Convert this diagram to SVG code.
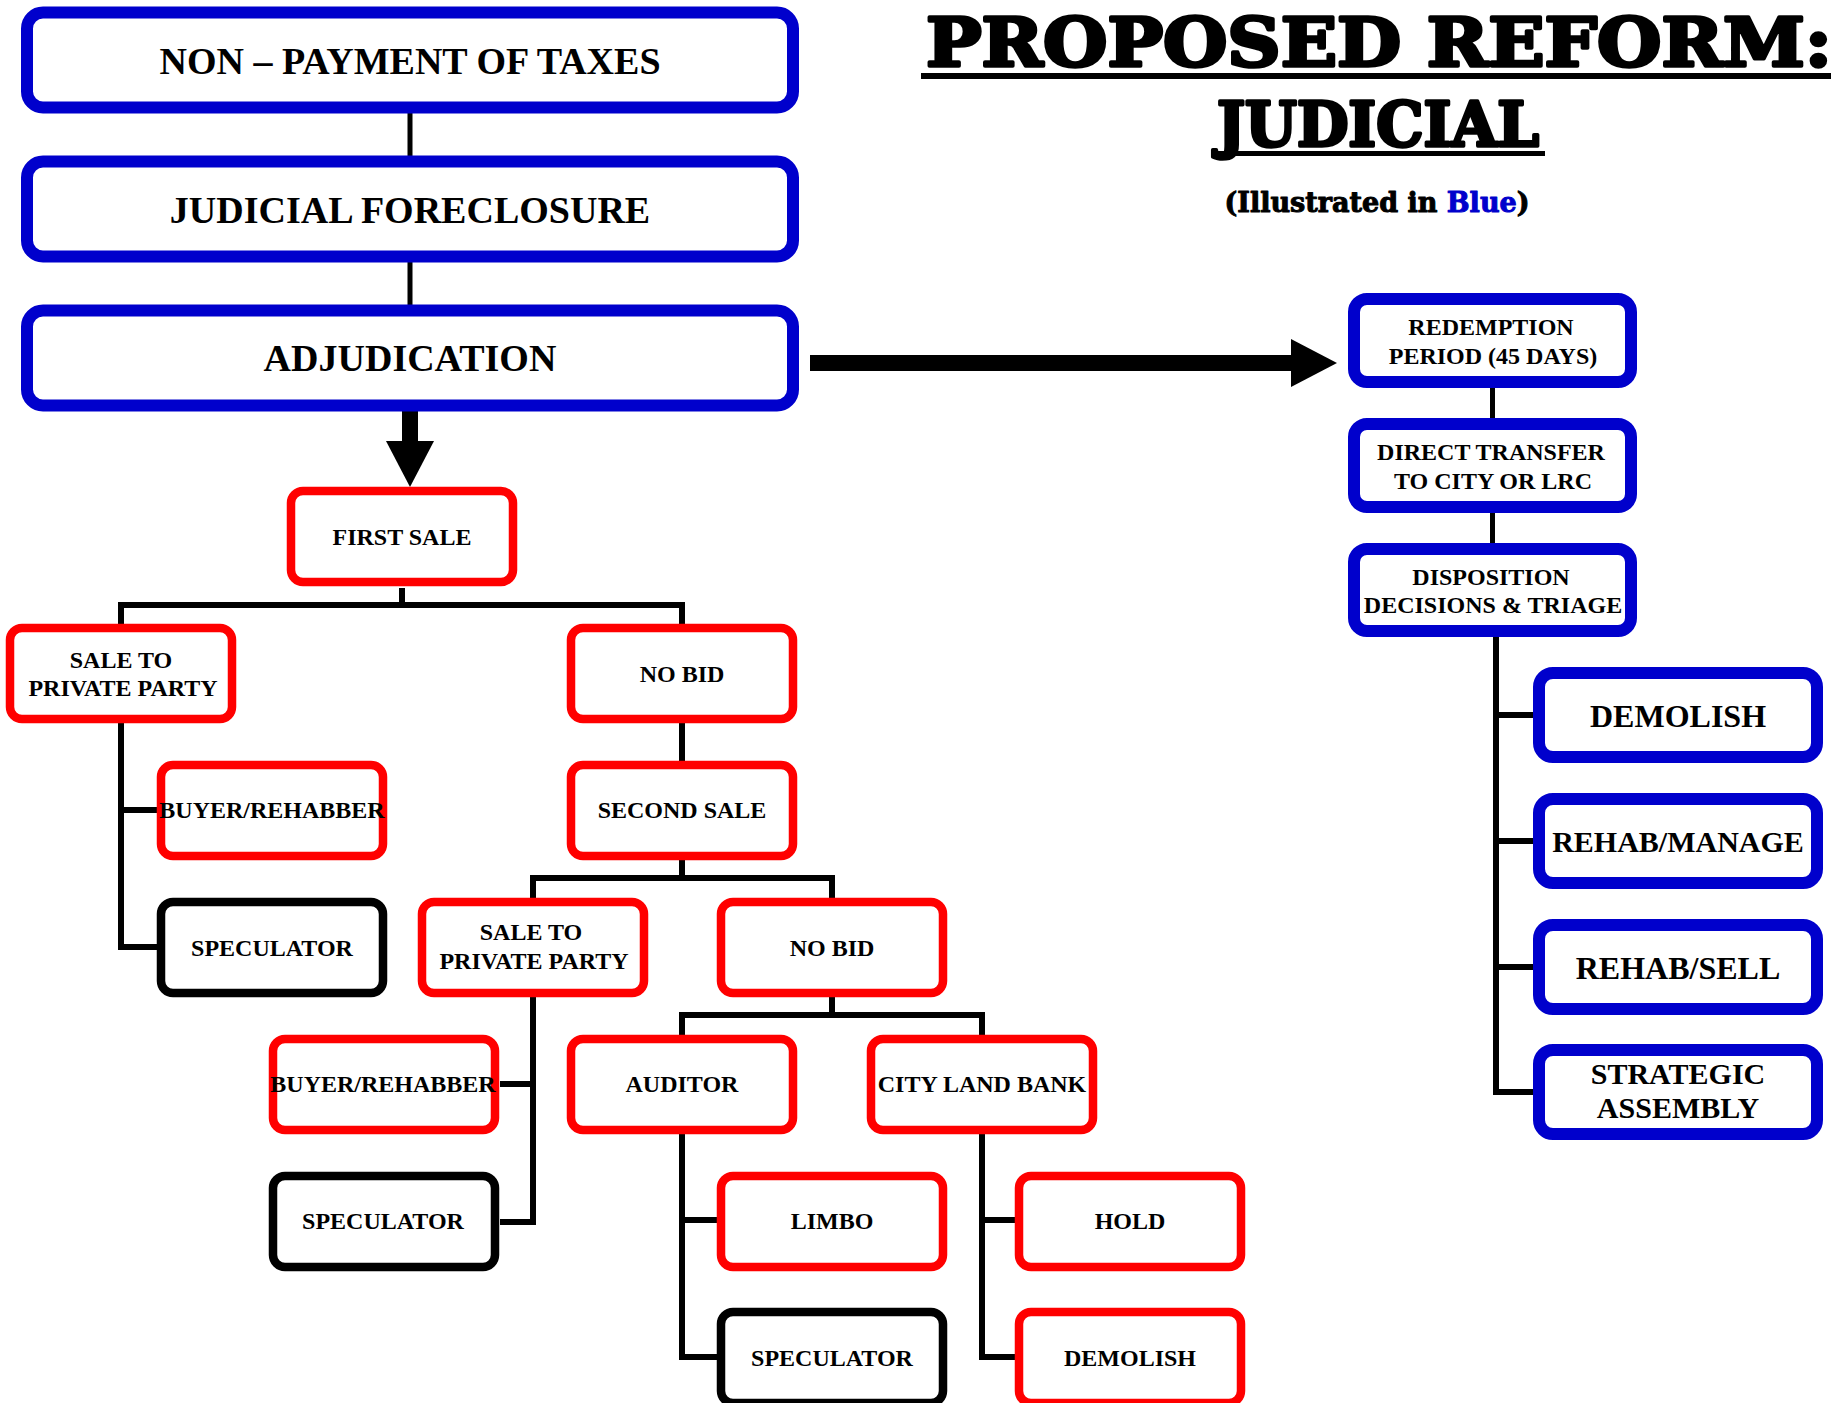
<svg xmlns="http://www.w3.org/2000/svg" width="1831" height="1403" viewBox="0 0 1831 1403">
  <style>
    .bg { fill: #ffffff; }
    .blue { fill: #ffffff; stroke: #0000CC; stroke-width: 12; }
    .red { fill: #ffffff; stroke: #FF0000; stroke-width: 8.5; }
    .blk { fill: #ffffff; stroke: #000000; stroke-width: 8.5; }
    .lbl { font-family: "Liberation Serif", "Times New Roman", serif; font-weight: bold; fill: #000000; text-anchor: middle; }
    .s38 { font-size: 38px; }
    .s32 { font-size: 32px; }
    .s30 { font-size: 30px; }
    .s24 { font-size: 24px; }
    .head { font-family: "DejaVu Serif", serif; font-weight: bold; fill: #000000; stroke: #000000; stroke-linejoin: round; }
    .wire { fill: none; stroke: #000000; stroke-width: 6; stroke-linejoin: miter; stroke-linecap: butt; }
    .thin { stroke-width: 5; }
    .shaft { fill: none; stroke: #000000; stroke-width: 16; marker-end: url(#block); }
  </style>
  <defs>
    <marker id="block" viewBox="0 0 46 48" refX="0" refY="24" markerWidth="46" markerHeight="48" markerUnits="userSpaceOnUse" orient="auto">
      <path d="M0 0 L46 24 L0 48 Z" fill="#000000"/>
    </marker>
  </defs>

  <rect class="bg" x="0" y="0" width="1831" height="1403"/>

  <!-- heading -->
  <g id="title">
    <text class="head" x="926" y="66" font-size="67" stroke-width="3.5" textLength="906" lengthAdjust="spacingAndGlyphs">PROPOSED REFORM:</text>
    <rect x="921" y="73" width="910" height="6" fill="#000000"/>
    <text class="head" x="1378" y="146" font-size="61" stroke-width="3.5" text-anchor="middle" textLength="322" lengthAdjust="spacingAndGlyphs">JUDICIAL</text>
    <rect x="1212" y="151" width="333" height="5" fill="#000000"/>
    <text class="head" x="1377" y="212" font-size="27" stroke-width="1" text-anchor="middle" textLength="305" lengthAdjust="spacingAndGlyphs">(Illustrated in <tspan fill="#0000CC" stroke="#0000CC">Blue</tspan>)</text>
  </g>

  <!-- connectors -->
  <g id="connectors">
    <path class="wire thin" d="M410 112 V158 M410 261 V307"/>
    <path class="wire thin" d="M1492.5 386 V420 M1492.5 511 V545"/>
    <path class="wire" d="M1496 635 V1092 H1537 M1496 715 H1537 M1496 841 H1537 M1496 967 H1537"/>

    <path class="wire" d="M402 588 V605 M121 626 V605 H682 V626"/>
    <path class="wire" d="M121 720 V947 H161 M121 810 H161"/>
    <path class="wire" d="M682 720 V765"/>
    <path class="wire" d="M682 857 V878 M533 902 V878 H832 V902"/>
    <path class="wire" d="M533 993 V1222 H500 M533 1084 H500"/>
    <path class="wire" d="M832 993 V1015 M682 1039 V1015 H982 V1039"/>
    <path class="wire" d="M682 1130 V1357 H721 M682 1220 H721"/>
    <path class="wire" d="M982 1130 V1357 H1019 M982 1220 H1019"/>

    <path class="shaft" d="M810 363 H1291"/>
    <path class="shaft" d="M410 410 V441"/>
  </g>

  <!-- main stages -->
  <g id="non-payment">
    <rect class="blue" x="27" y="12.5" width="766" height="95" rx="16"/>
    <text class="lbl s38" x="410" y="74">NON – PAYMENT OF TAXES</text>
  </g>
  <g id="judicial-foreclosure">
    <rect class="blue" x="27" y="161.5" width="766" height="95" rx="16"/>
    <text class="lbl s38" x="410" y="223">JUDICIAL FORECLOSURE</text>
  </g>
  <g id="adjudication">
    <rect class="blue" x="27" y="310.5" width="766" height="95" rx="16"/>
    <text class="lbl s38" x="410" y="371">ADJUDICATION</text>
  </g>

  <!-- reform path -->
  <g id="redemption">
    <rect class="blue" x="1354" y="299" width="277" height="83" rx="13"/>
    <text class="lbl s24" x="1491" y="335">REDEMPTION</text>
    <text class="lbl s24" x="1493" y="364">PERIOD (45 DAYS)</text>
  </g>
  <g id="direct-transfer">
    <rect class="blue" x="1354" y="424" width="277" height="83" rx="13"/>
    <text class="lbl s24" x="1491" y="460">DIRECT TRANSFER</text>
    <text class="lbl s24" x="1493" y="489">TO CITY OR LRC</text>
  </g>
  <g id="disposition">
    <rect class="blue" x="1354" y="549" width="277" height="82" rx="13"/>
    <text class="lbl s24" x="1491" y="585">DISPOSITION</text>
    <text class="lbl s24" x="1493" y="613">DECISIONS &amp; TRIAGE</text>
  </g>
  <g id="reform-demolish">
    <rect class="blue" x="1539" y="673" width="278" height="84" rx="14"/>
    <text class="lbl s32" x="1678" y="727">DEMOLISH</text>
  </g>
  <g id="rehab-manage">
    <rect class="blue" x="1539" y="799" width="278" height="84" rx="14"/>
    <text class="lbl s30" x="1678" y="852">REHAB/MANAGE</text>
  </g>
  <g id="rehab-sell">
    <rect class="blue" x="1539" y="925" width="278" height="84" rx="14"/>
    <text class="lbl s32" x="1678" y="979">REHAB/SELL</text>
  </g>
  <g id="strategic-assembly">
    <rect class="blue" x="1539" y="1050" width="278" height="84" rx="14"/>
    <text class="lbl s30" x="1678" y="1084">STRATEGIC</text>
    <text class="lbl s30" x="1678" y="1118">ASSEMBLY</text>
  </g>

  <!-- current sale path -->
  <g id="first-sale">
    <rect class="red" x="291" y="491" width="222" height="91" rx="12"/>
    <text class="lbl s24" x="402" y="545">FIRST SALE</text>
  </g>
  <g id="sale-private-1">
    <rect class="red" x="10" y="628" width="222" height="91" rx="12"/>
    <text class="lbl s24" x="121" y="668">SALE TO</text>
    <text class="lbl s24" x="123" y="696">PRIVATE PARTY</text>
  </g>
  <g id="no-bid-1">
    <rect class="red" x="571" y="628" width="222" height="91" rx="12"/>
    <text class="lbl s24" x="682" y="682">NO BID</text>
  </g>
  <g id="buyer-rehabber-1">
    <rect class="red" x="161" y="765" width="222" height="91" rx="12"/>
    <text class="lbl s24" x="272" y="818">BUYER/REHABBER</text>
  </g>
  <g id="second-sale">
    <rect class="red" x="571" y="765" width="222" height="91" rx="12"/>
    <text class="lbl s24" x="682" y="818">SECOND SALE</text>
  </g>
  <g id="speculator-1">
    <rect class="blk" x="161" y="902" width="222" height="91" rx="12"/>
    <text class="lbl s24" x="272" y="956">SPECULATOR</text>
  </g>
  <g id="sale-private-2">
    <rect class="red" x="422" y="902" width="222" height="91" rx="12"/>
    <text class="lbl s24" x="531" y="940">SALE TO</text>
    <text class="lbl s24" x="534" y="969">PRIVATE PARTY</text>
  </g>
  <g id="no-bid-2">
    <rect class="red" x="721" y="902" width="222" height="91" rx="12"/>
    <text class="lbl s24" x="832" y="956">NO BID</text>
  </g>
  <g id="buyer-rehabber-2">
    <rect class="red" x="273" y="1039" width="222" height="91" rx="12"/>
    <text class="lbl s24" x="383" y="1092">BUYER/REHABBER</text>
  </g>
  <g id="auditor">
    <rect class="red" x="571" y="1039" width="222" height="91" rx="12"/>
    <text class="lbl s24" x="682" y="1092">AUDITOR</text>
  </g>
  <g id="city-land-bank">
    <rect class="red" x="871" y="1039" width="222" height="91" rx="12"/>
    <text class="lbl s24" x="982" y="1092">CITY LAND BANK</text>
  </g>
  <g id="speculator-2">
    <rect class="blk" x="273" y="1176" width="222" height="91" rx="12"/>
    <text class="lbl s24" x="383" y="1229">SPECULATOR</text>
  </g>
  <g id="limbo">
    <rect class="red" x="721" y="1176" width="222" height="91" rx="12"/>
    <text class="lbl s24" x="832" y="1229">LIMBO</text>
  </g>
  <g id="hold">
    <rect class="red" x="1019" y="1176" width="222" height="91" rx="12"/>
    <text class="lbl s24" x="1130" y="1229">HOLD</text>
  </g>
  <g id="speculator-3">
    <rect class="blk" x="721" y="1312" width="222" height="91" rx="12"/>
    <text class="lbl s24" x="832" y="1366">SPECULATOR</text>
  </g>
  <g id="land-bank-demolish">
    <rect class="red" x="1019" y="1312" width="222" height="91" rx="12"/>
    <text class="lbl s24" x="1130" y="1366">DEMOLISH</text>
  </g>
</svg>
